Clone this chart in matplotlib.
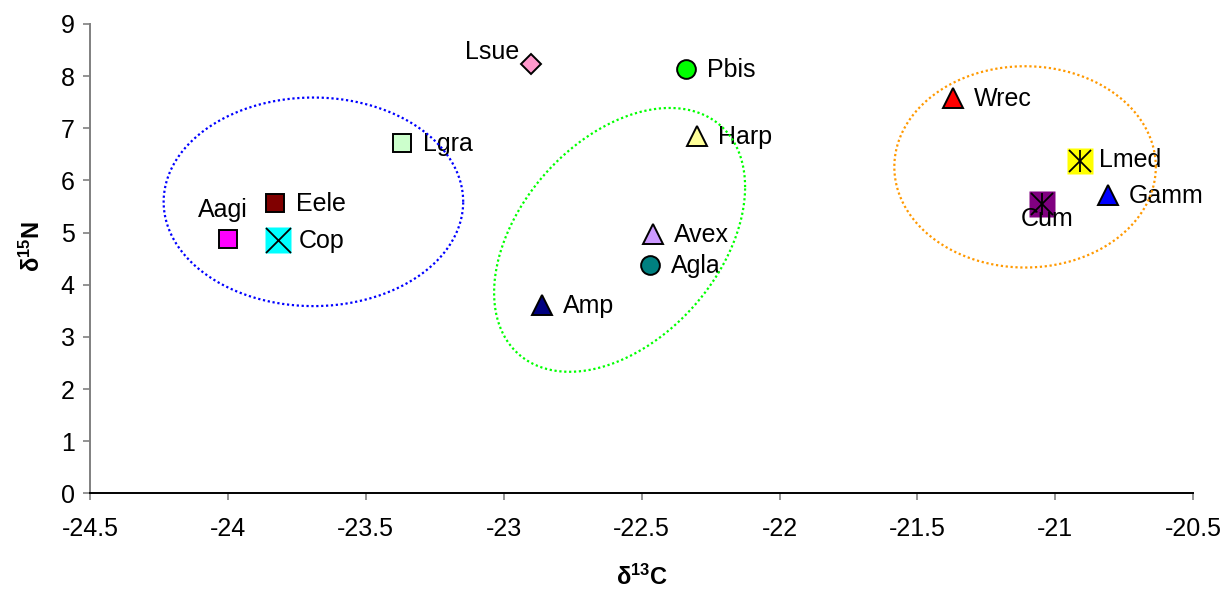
import numpy as np
import matplotlib
matplotlib.use("Agg")
import matplotlib.pyplot as plt

plt.rcParams["font.family"] = ["Liberation Sans", "DejaVu Sans"]
plt.rcParams["mathtext.default"] = "regular"

# stable isotope values per taxon
species = ["Aagi", "Eele", "Cop", "Lgra", "Lsue", "Pbis", "Harp",
           "Avex", "Agla", "Amp", "Wrec", "Lmed", "Cum", "Gamm"]
d13c = [-24.00, -23.83, -23.82, -23.37, -22.90, -22.34, -22.30,
        -22.46, -22.47, -22.86, -21.37, -20.91, -21.05, -20.81]
d15n = [4.88, 5.57, 4.85, 6.72, 8.24, 8.14, 6.85,
        4.98, 4.38, 3.61, 7.59, 6.37, 5.54, 5.72]

# group ellipses: centre x, centre y, half-width, half-height, tilt (correlation)
group_cx = [-23.69, -22.58, -21.11]
group_cy = [5.59, 4.86, 6.26]
group_rx = [0.543, 0.455, 0.474]
group_ry = [2.00, 2.53, 1.93]
group_rho = [0.0, 0.40, 0.0]
group_colors = ["#0000ff", "#00ff00", "#ff9900"]

marker_style = {
    "Aagi": ("s", "#ff00ff"), "Eele": ("s", "#800000"), "Cop": ("x", "#00ffff"),
    "Lgra": ("s", "#ccffcc"), "Lsue": ("D", "#ff99cc"), "Pbis": ("o", "#00ff00"),
    "Harp": ("^", "#ffff99"), "Avex": ("^", "#cc99ff"), "Agla": ("o", "#008080"),
    "Amp": ("^", "#000080"), "Wrec": ("^", "#ff0000"), "Lmed": ("*", "#ffff00"),
    "Cum": ("*", "#800080"), "Gamm": ("^", "#0000ff"),
}
# label offsets in pixels (dx, dy, ha) relative to the marker centre
label_pos = {
    "Aagi": (-5, 22, "center"), "Lsue": (-12, 5, "right"), "Cum": (6, -22, "center"),
    "Lmed": (19, -6, "left"),
}
default_pos = (21, -8, "left")

fig = plt.figure(figsize=(12.31, 5.94), dpi=100)
ax = fig.add_axes([0.0731, 0.1695, 0.8963, 0.7901])

sizes = {"s": 13.2, "o": 13.5, "^": 14.5, "D": 9.8}
for name, x, y in zip(species, d13c, d15n):
    m, c = marker_style[name]
    if m in ("x", "*"):
        ax.plot(x, y, marker="s", ms=18.8, mfc=c, mec="none", ls="none", zorder=3)
        ax.plot(x, y, marker="x", ms=15.5 if m == "*" else 18.0, mec="black",
                mew=1.3, ls="none", zorder=3)
        if m == "*":
            ax.plot(x, y, marker="|", ms=16.5, mec="black", mew=1.3, ls="none", zorder=3)
    else:
        ax.plot(x, y, marker=m, ms=sizes[m], mfc=c, mec="black", mew=1.4,
                ls="none", zorder=3)
    dx, dy, ha = label_pos.get(name, default_pos)
    ax.annotate(name, (x, y), xytext=(dx, dy), textcoords="offset pixels",
                ha=ha, va="baseline", fontsize=18, zorder=4)

t = np.linspace(0, 2 * np.pi, 400)
for cx, cy, rx, ry, rho, col in zip(group_cx, group_cy, group_rx, group_ry,
                                    group_rho, group_colors):
    ex = cx + rx * np.cos(t)
    ey = cy + ry * (rho * np.cos(t) + np.sqrt(1 - rho ** 2) * np.sin(t))
    ax.plot(ex, ey, color=col, lw=1.6, ls=(0, (1, 1.2)), zorder=5)

ax.set_xlim(-24.5, -20.5)
ax.set_ylim(0, 9)
ax.set_xticks(np.arange(-24.5, -20.4, 0.5))
ax.set_xticklabels(["-24.5", "-24", "-23.5", "-23", "-22.5", "-22", "-21.5", "-21", "-20.5"])
ax.set_yticks(range(0, 10))

for side in ("top", "right"):
    ax.spines[side].set_visible(False)
ax.spines["left"].set_color("#808080")
ax.spines["left"].set_linewidth(1.4)
ax.spines["bottom"].set_color("black")
ax.spines["bottom"].set_linewidth(1.4)
ax.tick_params(axis="both", direction="out", length=5, width=1.2,
               color="#808080", labelsize=18)
ax.tick_params(axis="x", pad=12)
ax.tick_params(axis="y", pad=6)

ax.set_xlabel("δ$^{13}$C", fontsize=17, fontweight="bold", labelpad=17)
ax.set_ylabel("δ$^{15}$N", fontsize=17, fontweight="bold")
ax.yaxis.set_label_coords(-0.041, 0.525)

fig.savefig("out.png", dpi=100)
